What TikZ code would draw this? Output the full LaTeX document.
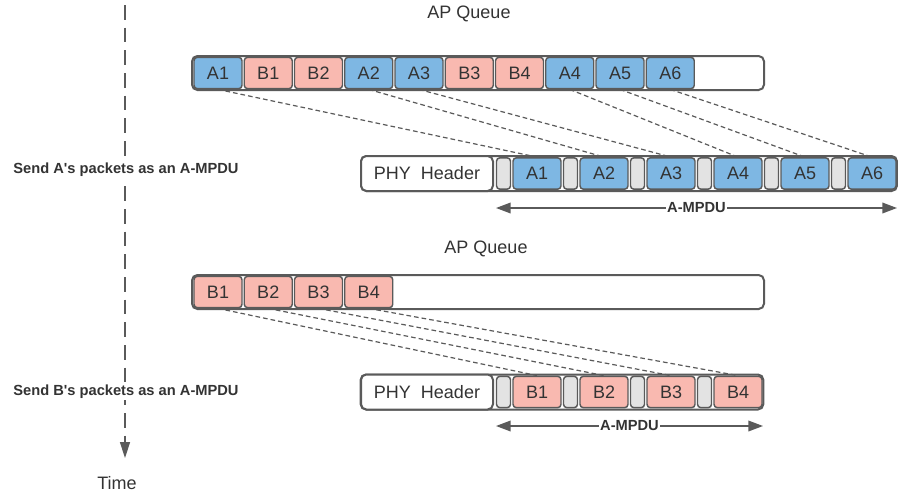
\documentclass[tikz,border=0pt]{standalone}
\usepackage{fontspec}
\setmainfont{Liberation Sans}
\usetikzlibrary{arrows.meta}

\definecolor{edge}{HTML}{5A5A5A}
\definecolor{pktA}{HTML}{7EB7E3}
\definecolor{pktB}{HTML}{F9B9B0}
\definecolor{delim}{HTML}{E3E3E3}
\definecolor{txt}{HTML}{333333}

\tikzset{
  box/.style={draw=edge,line width=1.5pt,rounded corners=4pt,fill=white,inner sep=0pt},
  pkt/.style={draw=edge,line width=1.1pt,rounded corners=2.5pt,minimum width=36pt,
    minimum height=23.5pt,inner sep=0pt,text=txt,font=\fontsize{13.5}{16}\selectfont},
  sep/.style={draw=edge,line width=1.1pt,rounded corners=2.5pt,fill=delim,
    minimum width=10.5pt,minimum height=23.5pt,inner sep=0pt},
  map/.style={edge,line width=0.9pt,dash pattern=on 3.5pt off 2.25pt},
  span/.style={edge,line width=1.1pt,{Triangle[length=11pt,width=8pt]}-{Triangle[length=11pt,width=8pt]}},
  lbl/.style={text=txt,font=\fontsize{13.5}{16}\selectfont},
  note/.style={text=txt,font=\bfseries\fontsize{11}{13}\selectfont,fill=white,inner sep=1pt}
}

\begin{document}
\begin{tikzpicture}[x=0.75pt,y=-0.75pt]
  \useasboundingbox (0,0) rectangle (898,493);

  % time axis
  \coordinate (t0) at (125,5);
  \coordinate (t1) at (125,458);
  \draw[edge,line width=1.1pt,dash pattern=on 11pt off 6pt,-{Triangle[length=12pt,width=7.5pt]}] (t0) -- (t1);
  \node[lbl] (time) at (117,483) {Time};
  \node[note] (sendA) at (126,170) {Send A\textquotesingle s packets as an A-MPDU};
  \node[note] (sendB) at (126,392) {Send B\textquotesingle s packets as an A-MPDU};

  % first queue and aggregate
  \node[lbl] (apq1) at (469,14) {AP Queue};
  \node[box,minimum width=429pt,minimum height=25.5pt] (q1) at (478,73) {};
  \foreach \lab/\col [count=\i from 0] in {A1/pktA,B1/pktB,B2/pktB,A2/pktA,A3/pktA,
      B3/pktB,B4/pktB,A4/pktA,A5/pktA,A6/pktA}
    \node[pkt,fill=\col] (q\lab) at (218+50.25*\i,73) {\lab};

  \node[box,minimum width=402pt,minimum height=26.25pt] (f1) at (629,173.5) {};
  \node[box,lbl,minimum width=99pt,minimum height=26.25pt] (h1) at (427,173.5) {PHY\ \ Header};
  \foreach \lab [count=\i from 0] in {A1,A2,A3,A4,A5,A6} {
    \node[sep] (d\lab) at (503.5+67*\i,173.5) {};
    \node[pkt,fill=pktA] (f\lab) at (537+67*\i,173.5) {\lab};
    \draw[map] (q\lab.south) -- (f\lab.north);
  }
  \coordinate (s1) at (496,208);
  \coordinate (e1) at (897,208);
  \draw[span] (s1) -- (e1) node[midway,note] {A-MPDU};

  % second queue and aggregate
  \node[lbl] (apq2) at (486,249) {AP Queue};
  \node[box,minimum width=429pt,minimum height=25.5pt] (q2) at (478,292) {};
  \foreach \lab [count=\i from 0] in {B1,B2,B3,B4}
    \node[pkt,fill=pktB] (q\lab) at (218+50.25*\i,292) {\lab};

  \node[box,minimum width=302pt,minimum height=26.25pt] (f2) at (562,392) {};
  \node[box,lbl,minimum width=99pt,minimum height=26.25pt] (h2) at (427,392) {PHY\ \ Header};
  \foreach \lab [count=\i from 0] in {B1,B2,B3,B4} {
    \node[sep] (d\lab) at (503.5+67*\i,392) {};
    \node[pkt,fill=pktB] (f\lab) at (537+67*\i,392) {\lab};
    \draw[map] (q\lab.south) -- (f\lab.north);
  }
  \coordinate (s2) at (496,426);
  \coordinate (e2) at (763,426);
  \draw[span] (s2) -- (e2) node[midway,note] {A-MPDU};
\end{tikzpicture}
\end{document}
